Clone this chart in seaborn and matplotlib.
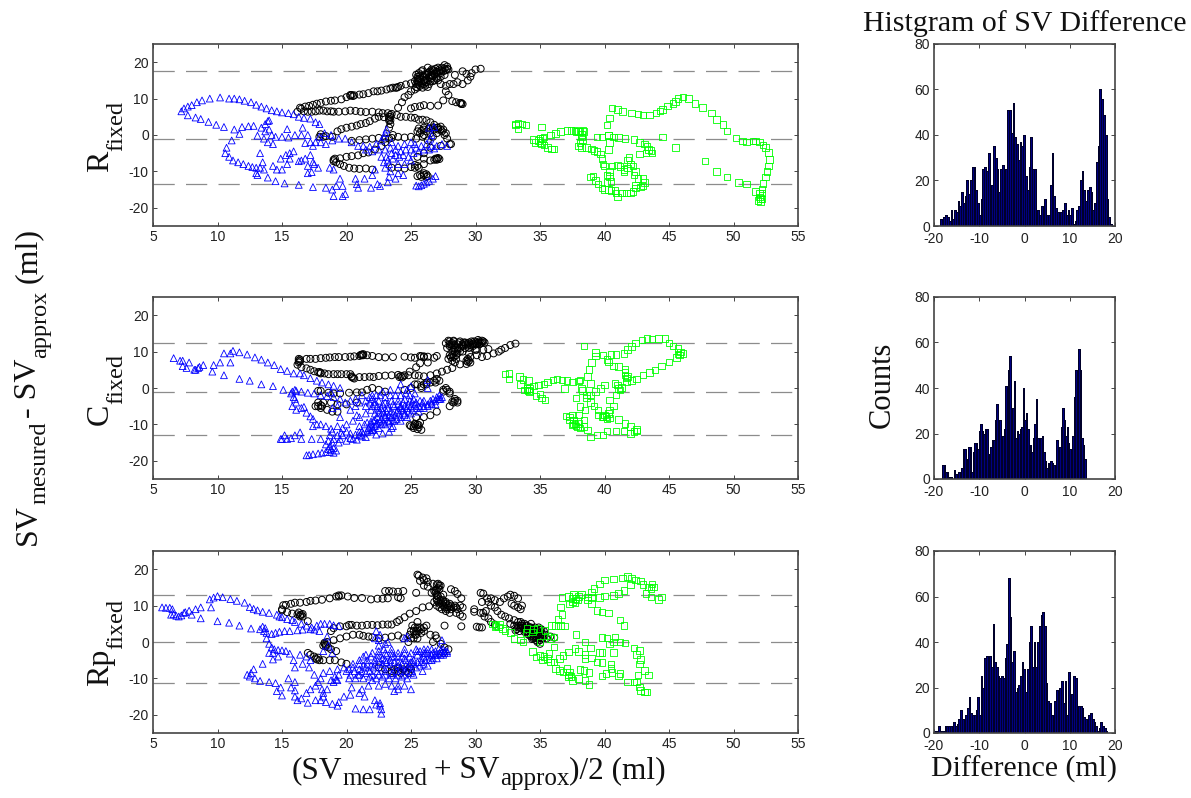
import numpy as np
import seaborn as sns
import matplotlib.pyplot as plt

# ---- scatter data (mean, difference) ----
r_black = [(16.4,7.5),(16.5,7.2),(16.8,7.8),(17.1,8),(17.4,8.3),(17.7,8.6),(18,8.8),(18.4,9.2),(18.8,9.4),(19.1,9.5),(19.6,9.8),(20,10.4),(20.3,10.8),(20.4,11),(20.6,10.9),(21,11.1),(21.3,11.2),(21.7,11.5),(22.1,12),(22.4,12),(22.7,12.2),(23.1,12.5),(23.4,12.8),(23.6,13),(23.9,13),(24.2,13.5),(24.6,13.9),(25,14.2),(25.3,14.8),(25.6,15.5),
    (25.3,12.5),(25.5,13),(25.7,13.5),(25.9,13),(26,14),(26.2,14.5),(25.6,14.5),(25.4,16.5),(25.6,17),(25.8,17.5),(26,16),(26.2,16.5),(26.4,17.3),(26.6,18),(26.8,17.5),(27,17),(27.2,18),(27.4,18.5),(27.6,19.2),(27.8,18.8),(27.9,18),(26.5,15.5),(26.7,16.2),(27,16),(27.3,17),(27.5,17.5),(26.1,15),(26.4,14),(26.8,15),(27.1,15),(25.9,17.8),(26.3,18.5),(26.6,16.5),(25.5,15.5),(27.7,17.8),
    (16.2,6.4),(16.7,6.5),(17,6.4),(17.3,6.4),(17.6,6.5),(17.9,6.7),(18.2,6.7),(18.5,6.5),(18.8,6.5),(19,6.4),(19.4,6.4),(19.9,6.5),(20.3,6.7),(20.7,6.6),(21.1,6.4),(21.5,6.3),(22,6.4),(22.5,6.2),(22.8,6),(23.2,6),(23.5,5.8),(23.9,5.5),(24.2,5),(24.6,5),(25,4.8),(25.3,4.7),(25.6,4.2),(25.9,4.2),(26.2,4),(26.5,3.5),(26.8,2.8),(27.1,2),(27.3,1.5),(27.6,0),(27.8,-1),(28,-2.5),(28.1,-2.5),
    (18.9,-0.5),(19.3,1),(19.6,1.6),(20,2),(20.4,2.3),(20.8,2.6),(21.1,3),(21.5,3.3),(21.8,3.8),(22.2,4.5),(22.5,5),(22.9,4.9),(23.3,5),(24,7.5),(24.3,9),(24.5,10.4),(24.8,11),(25,12),(25,7.3),(25.3,7.7),(25.7,7.9),(26,8.2),(26.5,8),(27.1,8.1),
    (27.3,14),(27.7,13.5),(28,14),(28.3,14),(28.6,14.5),(29,14),(29.4,15),(29.6,16),(29.7,17),(30,18),(30.4,18.2),(28.4,16.5),(29,17.5),(29.3,16.8),(27.7,12),(27.9,11),(27.5,9.5),(28.2,9.3),(28.5,9),(28.8,8.8),(29,8.5),
    (17.9,-0.5),(18,0.2),(18.2,-0.5),(18.4,-0.3),(19,-6.8),(19.2,-7.5),(19.5,-8),(19.8,-8.5),(20.2,-9),(20.6,-9.2),(21,-9.3),(21.5,-9.2),(22,-9.5),(19.5,-6.4),(20,-6),(20.4,-5.8),(20.9,-5.6),(21.3,-5),(21.7,-4.8),(22.2,-4),(22.7,-3),(23,-2),(23.3,-1),(23.6,0),(23.3,2),(23.4,3),(23.3,4),(23.4,5),(23.4,5.5),
    (25.5,1),(25.8,1.2),(26,2),(25.7,0.5),(26.2,1),(26.5,0.5),(26.8,1.5),(27,2),(27.3,2.3),(27.5,1.5),(27,0.5),(26,0),(25.4,-1),(20.4,-1.6),(21,-1.4),(21.5,-1.2),(22,-1),(22.5,-0.8),(23,-1),(23.5,-0.8),(24,-0.5),(24.5,-0.7),(25,-0.5),
    (25,-8.8),(25.3,-9),(25.5,-8.5),(26,-8),(26.5,-7),(26.8,-6.8),(27,-6.5),(27.2,-6.6),(26,-11),(25.8,-11.5),(25.5,-11.3),(26.2,-10.8),(26.3,-11.3),(26,-6.5),(25.5,-6),(23.5,-9),(24,-9),(24.5,-9.2),(27.3,-3),(26.5,-3.5),(26,-5)]
r_black_dense = [(25.4,13.2),(25.6,13.8),(25.8,14.3),(26,14.8),(26.2,15.3),(26.4,15.8),(26.6,16.3),(26.8,16.7),(27,17.4),(27.2,17.5),(27.4,17.8),(27.6,18.3),(27.8,18.2),(25.5,15),(25.7,15.5),(25.9,16.2),(26.1,16.7),(26.3,17),(26.5,17.5),(26.7,17.8),(26.9,18.2),(27.1,18.5),(25.5,16),(25.7,16.3),(25.4,14),(26.1,13.5),(26.3,13.2),(26.5,14.7),(26.7,14.8),(27,15.5),(27.3,16),(27.6,16.5),
    (25.6,1.8),(26,1.5),(26.4,1.8),(26.7,2.1),(27.1,1.5),(27.4,1),(27.7,0.5),(25.9,-0.5),(26.3,-1.5),(26.7,-0.5),(19,-7.2),(19.1,-6.5),(20.3,11),(20.5,10.7),(23.8,13),(24,13.2),(23.3,4.5),(23.4,4),(25.6,-9),(25.3,-8.2),(27,-6.8),(27.1,-6.3),(26.9,-6.5),(26.2,-11.5),(26,-10.5),(25.7,-11),(28.9,8.8),(28.9,8.5)]

r_blue = [(7.2,6.5),(7.4,7.3),(7.7,7.8),(8,8.2),(8.4,9),(8.8,9.5),(9.4,10),(10.2,10.3),(10.9,10),(11.3,10),(11.7,9.8),(12.1,9.4),(12.6,9),(13,8.3),(13.4,7.8),(13.8,7.3),(14.2,6.8),(14.6,6.5),(15,6.2),(15.5,6),(15.9,5.7),(16.3,5),(16.7,4.7),(17.2,4.5),(17.6,3.5),(17.9,3),
    (7.7,5.4),(8.3,4.8),(8.7,4.4),(9.3,3.6),(9.9,2.8),(10.5,2.2),(11.3,1.5),(11.9,2.2),(12.4,2.4),(12.8,2.5),(13.4,2),(13.7,3),(13.9,3.8),(14,4),(13.7,1),(14,1.5),(14.2,0),(14.5,-0.5),(15.4,1.6),(16.6,2),(15,-0.5),(15.5,-0.7),(16,0),(16.5,0),(17,0),(11.7,0.3),(11.1,-1.5),(13.1,-0.2),(13.6,-1),(13.9,-2),(14.3,-2.5),
    (10.7,-3.5),(10.6,-5),(10.9,-6),(11.2,-7),(11.6,-7.5),(12,-8),(12.4,-8.5),(12.7,-8.8),(13,-9),(13.3,-9),(13.5,-7.5),(13.3,-5),(13.6,-9.5),(13,-10.5),(13.1,-11),(13.9,-11.7),(14.5,-12.7),(15.2,-13.3),(16.3,-13.7),(17.4,-14.3),(14.3,-8.5),(14.6,-9.5),(15,-9.5),(14.9,-6.5),(15.3,-5.5),(15.6,-5),(15.9,-4.5),(15.6,-6.5),(16.3,-7.2),(16.5,-7),(15.4,-8),(16.8,-6.5),(17.2,-5.5),(17.4,-7.5),(17,-8.5),(17.5,-8),
    (17,-10.5),(17.3,-10.2),(17.8,-9),(18.7,-9),(19,-9.5),(18.4,-14.5),(18.9,-15),(19,-16.8),(19.7,-16.8),(19.9,-16.2),(19.2,-14),(19.5,-12),(19.7,-14),(20.7,-12),(20.8,-13.5),(20.9,-14.5),(21.4,-12),(21.9,-14.5),(22.4,-13.5),(22.6,-14),(23.2,-13),(23.8,-12),(24,-10.5),
    (16.8,-2.2),(17.2,-2),(17.6,-2),(18,-2),(17.4,-3),(18.4,-2.5),(18.9,-1.5),(19.4,-1),(19.9,-1),(20.4,-2),(17.9,-0.5),(18.3,0.5),(18.8,0),(20.9,-3),(21.3,-3),(21.8,-3.2),(22.3,-2.5),(22.7,-1.5),(23,0.5),(23.1,1.5),(22.9,-0.5),
    (21.5,-4),(22,-4.5),(22.5,-4),(23,-4),(23.4,-3.5),(23.8,-4),(24.2,-4.5),(24.6,-4),(25,-4),(25.4,-3.5),(25.8,-3),(26.2,-2.5),(26.6,-3),(27,-3),(27.4,-2.5),(27.8,-3),(26.5,-1),(26.6,0),(26.4,2),(26.8,2.2),(25.3,-2.5),(25,-2),(24.5,-2.5),(24,-3),(23.5,-2),(23.1,-6),(23.2,-7),(23.3,-8),(23.5,-5),(23.6,-6.5),(23.8,-5.5),(24.1,-6),(24.4,-5.5),(24.8,-6),(25.2,-5),(25.6,-4.5),(26,-4),(26.4,-4),(26.8,-3.7),(22.7,-6),(22.9,-7.5),(23,-9),(23.4,-10),(24,-8),(24.5,-8),(25,-7),(22.2,-9.5),(22,-11),(23.3,-11.5),(24.4,-11),
    (25.4,-13.9),(25.6,-14.1),(25.8,-13.8),(26,-13.4),(26.2,-13),(26.4,-12.6),(26.7,-12),(26.9,-11.3)]

r_green = [(33.1,3),(33.1,2.7),(33.3,1.7),(33.3,3.2),(33.6,3),(33.9,2.8),(35.1,2.2),(34.5,-1.2),(34.6,-2),(34.9,-1.5),(35,-2),(35.1,-2.5),(35.2,-1),(35.3,-2.8),(35.6,-3.4),(35.9,-3.8),(36.1,-3.8),(35,-1),(35.3,-0.5),(35.8,0),(36.2,0.4),(36.6,0.9),(37.1,1.2),(37.4,1.3),(37.7,1.2),(37.8,1),(38,1),(38.1,0.9),(38.3,1.2),(38.4,1),(38.2,0.2),(38.2,-0.5),(38.3,-1.2),(38.1,-2),(38,-3),(38.2,-3.4),(38.6,-3.5),(39,-3.8),(39.2,-4.2),(39.4,-4.5),(39.7,-5.2),(39.8,-6.5),(39.9,-8),(40,-8.5),
    (39.4,-0.5),(39.8,-0.6),(40.3,-0.2),(40.7,-0.6),(41.1,-0.7),(41.6,-1),(42.3,-1.2),(42.7,-2),(43.1,-2.5),(43.3,-3.2),(43.4,-4),(43.6,-4.2),(43.7,-5),(43.2,-5),(42.7,-5.2),(44.5,-0.6),(45.5,-3.5),(40.3,-4),(40.3,0),(40.4,-2),(40.2,2.7),(40.4,4.7),(40.6,7.4),(41,7),(41.4,6.5),(42.1,6.1),(42.6,5.8),(43,5.5),(43.5,5.5),(44,6),(44.3,6.6),(44.5,7),(44.9,8),(45.3,8.6),(45.5,9.2),(45.7,10),(46.1,10.5),(46.5,10),(47,8.7),(47.6,7.5),(48.3,6),(48.7,4.2),(49.2,2.9),(49.5,1.1),(50.2,-0.8),(50.7,-1.6),(51,-1.9),(51.5,-1.6),(51.7,-1.6),(52,-1.9),(52.3,-2.7),(52.5,-3.5),(52.7,-4.8),(52.8,-6.8),(52.7,-8.5),(52.6,-10),(52.5,-11.5),(52.3,-13.3),(52.2,-14.8),(51.7,-15.5),(52,-16),(52.2,-16),(52,-17),(52.1,-17.5),(51.9,-18),(52.2,-17.6),(52.1,-18.3),
    (47.8,-7.2),(48.7,-10),(49.5,-11.5),(50.4,-13),(51,-13.4),(38.9,-11.5),(39.1,-11.3),(39.3,-12.5),(39.5,-13.5),(39.8,-14.5),(40.2,-13),(40,-15),(40.3,-15),(40.5,-15.2),(40.8,-15.3),(40.9,-16),(41,-17),(41.3,-16),(41.7,-16),(42,-16),(42.2,-15.5),(42.4,-14.6),(42.4,-13.7),(42.6,-12),(43,-12),(43.1,-13),(43,-14),(42.8,-14.3),(40.5,-12.8),(40.4,-11.4),(40.2,-11),(40.4,-10),(40.6,-8.5),(41,-8.3),(41.2,-8.7),(41.5,-9.5),(41.8,-9),(42.2,-8.5),(42,-8),(41.9,-6.2),(41.8,-6.9),(42.4,-10),(42.3,-11),(41.5,-10)]

c_black = [(16.3,8),(16.4,7.8),(16.3,7),(16.2,6.4),(16.9,8),(17.2,8),(17.6,8),(18,8.2),(18.4,8.3),(18.7,8.4),(19.1,8.5),(19.4,8.5),(19.9,8.5),(20.3,8.6),(20.6,8.7),(21,8.8),(21.2,9.2),(21.3,9.3),(21.6,9),(22,8.8),(22.5,8.5),(23,8.4),(23.6,8.5),(24.5,8.6),(25,8.4),(25.3,8.3),(25.7,8.8),(26,8.7),(26.3,8.6),(26.8,8.3),(27,8.8),
    (16.5,5.7),(16.9,5.4),(17.2,5),(17.5,4.6),(17.8,4.3),(18,4.2),(18.3,4),(18.6,3.8),(19,3.8),(19.3,3.8),(19.6,3.8),(20,3.8),(20.3,3.8),(20.4,3.2),(20.6,2.6),(21,3),(21.4,3),(21.8,3.1),(22.1,3),(22.5,3.3),(23,3.4),(23.5,3.5),(24,3.6),(24.4,3.2),(24.8,3.5),(25.3,3.5),(25.6,3.4),(26,3.2),(26.5,3.5),(27,4),(27.4,4.5),(27.8,5),(28.2,5.5),(28.8,6.5),(29.3,6.6),
    (27.7,12.3),(27.9,13),(28,11.5),(28.2,10),(28,9),(27.9,8),(28.2,7.5),(28.5,8),(28.6,9.5),(28.8,11),(28.3,13),(28.6,12),(29,12),(29.4,12.2),(29.8,12.2),(30,12.5),(30.3,12.8),(30.5,13),(30.7,12.5),(30.3,12),(29.8,11.5),(29.2,11),(28.8,12.8),(29.5,11),(30,10.5),(29.5,9.5),(29.6,8.5),(29.4,7.2),(29.6,7),(28.1,12),(28.4,11),(28.2,9),(28.4,7),(28.3,12.8),(29.1,12.5),(29.7,12.8),(30.1,12),(29,10),(30.1,9),(30.5,8.5),(30.9,8.8),
    (30.1,10.5),(30.6,10.5),(31,10.7),(31.4,9.5),(31.8,10),(32,10.5),(32.3,11),(32.7,11.8),(33.1,12.2),(25.4,5.7),(24.9,4.5),(25.7,6.8),(26.3,7),
    (17.8,-0.8),(18,-0.8),(18.6,-1.3),(19,-1.5),(19.5,-1.5),(20.2,-1.3),(20.8,-1.2),(21.2,-1.2),(21.6,-0.5),(17.6,-5),(17.8,-5),(18,-5.5),(18.5,-6),(18.9,-6.5),(19.3,-6.5),(17.8,-4),(18.2,-4),(18.8,-4),(19.3,-4.5),(20,-4.5),(20.8,-4),
    (24.9,-10.2),(25.2,-10.5),(25.6,-10.8),(25.5,-10),(25.7,-9.5),(25.8,-11.5),(25.2,-11),(25.4,-8),(26,-8),(26.5,-7.5),(27,-6.5),(28,-5),(28.3,-4),(28.6,-4),(28.4,-3),(28,-1),(27.5,-1),(27.7,0),(25.8,0),(25.5,1),(26.2,1.5),(26.8,2),(27,2.5),(25,0),(25.3,1),(24.5,-0.5),(23,-1),(22.5,-0.5),(22,0)]
c_black_dense = [(27.8,11),(28,12.8),(28.2,12.3),(28.4,11.8),(28.6,11),(28.8,10),(28.2,11),(28.4,10),(28.6,10.5),(28.1,8.5),(28.3,8.5),(28.5,9),(29.2,12),(29.4,11.7),(29.6,11.8),(29.8,12),(30,12),(30.2,12.4),(30.4,12.4),(30.6,12.8),(29,11.5),(29.2,12.5),(29.5,12.5),(29.9,12.8),(30.2,13.2),(30.5,12.5),(29.3,7.5),(29.5,7.5),(29.4,8),(28,12),(28.7,12.5),
    (25,-10.5),(25.3,-10),(25.5,-11.3),(25.3,-9.8),(25.6,-10.2),(21.2,9),(21.3,9),(21.1,9.1),(20.4,3),(20.5,2.8),(18,4),(17.9,4.4),(26.2,1),(26.5,1.5),(26.9,1.5),(27.2,2),(26,1),(25.8,0.5),(27.5,-0.5),(27.8,-0.5),(28,-1.5),(28.4,-3.5),(28.6,-3.5),(28.2,-3.8),(18.1,-5),(18,-4.7),(25.8,8.7),(26,8.5),(16.4,7.3),(16.3,7.5),(24.5,3.5),(24.2,3.3),(24.3,2.9),(24.1,3)]

c_blue = [(6.6,8.2),(7.1,7.5),(7.3,7.5),(7.3,6),(7.6,5.5),(7.8,7),(8.2,5),(8.3,5),(8.5,5.5),(8.6,5.8),(8.9,6.3),(9.6,4.5),(9.7,6.3),(10.2,7),(10.5,3.5),(11,7),(10.5,9.5),(11,9.5),(11.2,10.2),(11.7,9.8),(12.3,9.2),(12.9,8.4),(13.4,7.8),(13.9,7),(14.4,6.3),(14.9,5.2),(15.4,4.7),(15.9,4),(16.4,4),(16.7,3.5),(17.2,2.7),(17.7,2),(18.1,1.5),(18.6,1),(19,0.6),(19.5,0),
    (11.7,2.5),(12.5,2),(13.4,1),(14.3,0.5),(15.1,-0.5),(15.8,-1),(16,-0.5),(16.1,-0.8),(15.7,-1.5),(15.9,-2.5),(16,-3),(16.1,-4),(15.8,-5),(16.1,-6),(16.5,-5.5),(16.7,-5.2),(16.9,-6.8),(17.2,-7.8),(17.4,-8.5),(16.5,-1),(17,-1.3),(17.5,-1.5),(18,-2),(18.5,-2.2),(17.4,-10.5),(17.7,-10),(18,-10),(18.4,-10.5),(18.8,-11.2),(18.9,-12),(19.3,-10.5),(19.7,-11),(20,-12),(14.9,-14),(15,-14),(15.2,-13),(15.4,-14),(15.7,-13.8),(16,-13),(16.4,-12.2),(16.5,-14),(17.3,-14),(18,-14),
    (16.9,-18.5),(17.1,-18.4),(17.4,-18.2),(17.8,-18),(18.1,-17.8),(18.4,-17.6),(18.7,-17.6),(19,-17.8),(19.2,-17.2),(18.7,-16),(18.9,-15),(18.6,-14.5),(19,-14),(19.3,-13),(19.6,-12.3),(20.3,-13.8),(20.5,-14),(20.8,-14.2),(21.2,-13.3),(21.5,-13.5),(21.2,-12),(21.7,-11),(22,-10.8),(22.2,-10.5),(22.5,-11),(22.3,-12.8),(22.8,-12.5),(23.3,-12),(23.6,-10.5),(18.4,-15.5),(18.7,-13),(19.4,-15),(20,-14.5),(20,-10),(20.5,-9),(20.8,-7.5),(21,-10.5),(21.4,-10),(21.8,-11.5),(21.9,-12),(22.1,-11.5),
    (19.9,-4),(20.3,-3.5),(20.7,-5),(21,-4),(21.5,-5),(21.9,-6),(22.2,-7),(22.4,-8),(22.6,-9),(22.9,-9.5),(23.2,-9),(23.5,-8),(23.8,-7.5),(24.1,-7),(24.4,-6),(24.7,-5.5),(25,-5),(25.3,-4.5),(25.6,-5),(26,-5),(26.3,-4.5),(26.6,-4),(26.9,-3.5),(27.2,-3),(27.4,-2.5),(27.2,-2),(27,-2.5),(26.7,-3),(26.5,-3.5),(25.9,-4),(25.2,-3),(24.9,-2),(24.7,-0.5),(25,0.5),(25.3,-1.5),(24,-0.5),(23.4,-0.5),(22.8,-1),(22.3,-2),(21.8,-2.5),(21.2,-2),(22,-3),(22.5,-3.5),(23,-4),(23.5,-3.5),(24,-3.5),(24.5,-3),(24.9,-3.5),(22.2,-4.5),(22.7,-5.5),(23.2,-5.5),(23.7,-5),(24.2,-5),(22.9,-7),(23.4,-6.5),(24,-6),(24.5,-7),(23,-8),(22.5,-6),(21.5,-7),(21,-8),(20.7,-3),(20.3,-6),(24.7,-8),(23.7,-9),(24.2,-9),(25,-7),(25.6,-6.5),(26.3,2.2),(26.3,0),(23.5,-11),(23.3,-9.5),(21.6,-9.5),(21.9,-9.2),(22.2,-8.8),(24.2,1),(19,-2.5),(19.5,-3),(18.8,-1.2),(19.3,-5),(18.9,-5.5),(19.5,-8)]
c_blue_dense = [(21,-13),(21.3,-12.5),(21.6,-12),(22,-11.5),(22.3,-10),(22.7,-10),(23,-10),(23.3,-9),(23.6,-9),(23.9,-8.5),(24.2,-8),(24.5,-7.5),(24.8,-6.5),(25.1,-6),(25.4,-5.5),(25.7,-5.5),(26,-5.5),(26.3,-5),(26.6,-4.5),(26.9,-4.5),(27.1,-3),(27.3,-3),(21.9,-9.8),(22.1,-9),(22.4,-9.5),(22.7,-8.5),(23,-7.5),(23.3,-7.5),(23.6,-7),(23.9,-6.5),(24.2,-5.5),(24.5,-5),(24.8,-4.5),(25.1,-4),(25.4,-4),(25.7,-3.5),(26,-3.5),(22,-5),(22.4,-5),(22.8,-4.5),(23.2,-4.5),(23.6,-4.5),(24,-4.5),(24.4,-4),(21.5,-3.5),(21.8,-4),(22.2,-3.8),(22.5,-6.8),(22.8,-6.5),(23.1,-6.5),(20.3,-12.5),(20.7,-12.8),(21,-12),(19.5,-14),(19.7,-13),(19,-16.5),(18.8,-17),(18.6,-16.8),(22,-2),(22.6,-2),(23,-2.5),(23.4,-2),(23.8,-2),(24.2,-2),(24.6,-1.5)]

c_green = [(32.3,3.8),(32.6,4),(32.6,2.5),(33.4,3.1),(33.7,2.4),(33.5,0.9),(34.1,2),(33.8,-0.5),(34,-0.5),(34.2,-1),(34.2,-0.1),(34.1,-0.7),(34,-0.2),(34.7,-2.2),(35,-1.6),(35.1,-2.8),(35.4,-3.3),(34.5,0.5),(34.9,0.8),(35.3,1.1),(35.6,1.6),(36,2.2),(36.3,2.5),(36.7,2.2),(37.1,2),(37.5,1.6),(38,1.9),(38.1,2.2),(36.9,-0.1),(38.2,-0.1),(38.3,-0.7),(38.6,-1.9),(38.9,1.3),(38.7,3.1),(38.8,5.1),(39,7),(39.3,9.8),(38.4,11.5),(39.3,8.8),(39.9,9),(40.5,9.2),(40.9,9.2),(41.5,9.5),(41.8,10.6),(42.1,11.4),(42.4,12.3),(42.9,13.2),(43.3,13.6),(43.7,13.4),(44.2,13.6),(44.7,13.6),(45,12.3),(45.3,11.5),(45.7,10.9),(46.1,9.5),(45.8,9),(45.6,8.4),(45.9,9.9),(45.7,9.3),(45,7.2),(44.4,6.1),(43.9,4.9),(43.5,4.3),(43,3.6),(42.5,2.5),(42.1,2),(41.7,1.7),(41.6,3.6),(41.6,5.1),(41.1,5.9),(40.7,6.1),(40.3,7.2),(40.2,7.9),(41.7,2.7),(41.6,4.2),(41.8,3.2),
    (41.2,-0.5),(41,0.8),(40.8,1.3),(41.1,-0.1),(41.3,0.2),(40,0.8),(39.7,-0.1),(39.3,-1),(38.9,-1.9),(38.6,-2.8),(38.9,-4),(39.2,-4.9),(39.5,-6),(39.5,-7.4),(39.9,-7.9),(40.3,-7),(40.4,-8.3),(41.1,-8.6),(41.6,-9.7),(42,-10.6),(42.5,-11.4),(42,-12.5),(41.5,-11.8),(40.9,-11.8),(40.2,-11.8),(39.9,-12.9),(39.4,-12.9),(38.9,-13.4),(38.7,-11.5),(38.4,-10.6),(38,-9.7),(37.6,-9.7),(37.3,-8.8),(37,-7.7),(37.5,-7.4),(38,-7.4),(38.5,-6),(38.1,-5.1),(37.8,-2.7),(40.4,-3.3),(40.7,-4.9),(40.4,-6),(40,-7.4),(40.9,-1.9),(38.4,-8.8),(37.5,-10.2),(37.8,-10.4),(37.3,-8),(37.6,-8.8),(37.7,-9.9),(37.9,-10.7),(38.1,-11),(42.3,-12),(42.5,-11.8),(40.1,-7.8),(40.2,-8.5),(39.8,-8)]

rp_black = [(15,9),(15.1,10.1),(15.3,10.2),(15.7,10.5),(16,10.8),(16.4,10.8),(16.9,11),(17.2,11.3),(17.6,11.4),(18.1,11.6),(18.7,12),(19.2,12.5),(19.4,12.8),(19.6,12.8),(20.1,12.5),(20.6,12.1),(21.2,12.1),(21.9,11.7),(22.4,11.9),(22.8,11.9),(23.2,12),(23,14),(23.3,14),(23.6,13.9),(24,13.8),(24.4,14),(24,12.3),(24.2,12),(15,8.7),(15.4,8.2),(15.8,7.8),(16.2,7.6),(16.4,7.4),(16.6,7),(16.6,7.7),(16.3,8.1),(17,5.7),
    (18.8,3),(19,3.8),(19.5,4.3),(20,4.3),(20.2,4.7),(20.4,4.7),(20.8,4.5),(21.2,4.5),(21.6,4.7),(22,4.7),(22.4,4.6),(22.8,4.8),(23.2,4.8),(23.5,4.8),(17,-3),(17.2,-3.5),(17.5,-4),(17.7,-4.8),(17.9,-5),(18.2,-5),(18.7,-5),(19.1,-5),(19.6,-5.6),(20,-6),(18.3,-0.5),(18.4,-1.2),(18.6,-1.5),(18.8,-2),(19.2,-2.5),(18.5,0),(19,0.5),(19.5,1),(20,1.5),(20.5,2),(21,2),(21.3,1.7),(21.7,1.5),(22,1.3),(22.5,1),(23,1.2),(23.5,1.5),(24,1.8),(24.4,1),(24.8,0),(25,1),(25.3,2),(25.4,3),(25.7,4),(26,4),(26.2,4.5),(26.5,2),(26.9,1.8),(27,1),(26.7,0),(27.3,-0.5),(27.6,-1.5),(27.9,-2),(27.5,-3),(23.9,5.5),(24.1,6),(24.5,6.8),(24.9,7.8),(25.4,8.5),(25.9,9.5),(26.4,9.8),(25.4,13.5),(25.2,3),(25.5,1),(25.8,2.5),(25.1,4.5),(25.5,5.5),(24.9,-7),(24,-8),(23.5,-8.5),(23,-7.5),(22.5,-7),(24.4,-7.5),(24.8,-8.5),
    (25.5,18.5),(25.6,18.2),(25.9,17.7),(26.2,17.5),(26.3,16.5),(26.7,16),(27,15.8),(27.1,16),(27.3,15.5),(25.7,16.8),(26,15.5),(26.3,15.2),(26.6,13.5),(26.8,14),(27,13),(27.2,14.5),(27.3,12.5),(27.5,11.5),(27.7,11),(28,10.5),(28.4,10),(28.8,10),(29,9.5),(28.6,9),(28.1,14.5),(28.4,14),(28.6,13.2),(28.9,12),(27,10),(27.2,9.5),(27.7,8.5),(28,8),(28.5,8),(28.8,7.5),(29,7),(28.9,4.3),(27.5,10),(26.8,11),(27,12),(26,17),(27.5,13),(27.1,11),(27.4,9),(27.8,9.5),(28.1,9),(27.6,4.5),(30.1,4.2),(29.9,9),(29.9,8.3),(30.3,4),(30.5,4),
    (30.4,13.5),(30.6,13.3),(30.5,11),(30.4,8),(30.6,8),(30.7,7),(30.9,12),(31.2,12),(31.5,11.5),(31.9,11),(32.2,12),(32.5,12.5),(32.7,13),(33,12.7),(33.3,12),(32.8,10.5),(33,10),(33.3,9.5),(33.5,9),(33.6,10),(30.8,8.5),(31,6.5),(31.2,5.5),(31.5,4.8),(31,11),(31.2,10),(31.5,9.5),(31.7,8.5),(32,7.5),(32.3,7),(32.6,6.5),(33,6),(33.3,5.5),(33.6,5),(33.9,4.5),(34.2,4),(34.5,3.5),(34.8,3),(35,2.5),(35.2,2),(34.5,1),(34.8,0),(35,-0.5),(34.5,2),(34.2,3),(33.8,3.5),(33.5,3.8),(33.2,3.5),(33,4.5),(32.7,5),
    (33.5,5.5),(33.8,5),(34,4.5),(34.3,5),(34.6,4),(34.9,4),(35.1,3.5),(35.3,3),(35.4,2),(35.2,1),(35,1.5),(34.7,1.5),(34.4,0.8),(34.1,2.5),(33.8,2.8),(33.4,3),(33.1,3.2),(34.6,2.5),(34.9,2),(35,0.5),(35.5,1),(35.8,1.5),(36.1,1.2),(34.3,1.5),(34.7,0.5)]
rp_black_dense = [(27.2,15.5),(27,14.5),(26.9,13.5),(27.1,12.5),(27.3,11.5),(27.5,11),(27.7,10.5),(27.9,10),(28.1,10),(28.3,9.5),(28.5,9.5),(27,11.5),(27.2,10.5),(27.4,10.5),(27.6,9.5),(27.8,9),(28,9.5),(33.3,4.5),(33.5,4.5),(33.7,4),(33.9,4),(34.1,3.5),(34.3,3.5),(34.5,3),(34.7,2.5),(34.9,3),(33.9,3),(34.1,2),(34.3,2),(34.5,1.5),(34.7,1),(34.9,1),(35.1,1),(35.3,1.5),(35,3.3),(34.3,4),(34.6,3),(33.6,4.5),(33.3,4),(24.9,2),(25,3),(25.2,1),(25.4,2),(25.6,3),(25.8,3.5),(26,3),(25.3,4),(25.5,4),(18.3,-0.2),(18.4,-0.8),(18.2,-1),(17.6,-4.5),(17.8,-4.3),(16.5,7.5),(16.4,7),(19.4,12.5),(23.5,-8),(24.2,-8.5),(24,-7),(23.7,-7.5),(24.6,-8),(25,-7.5),(26.9,14.2),(27.1,14.8)]

rp_blue = [(5.7,9.5),(6,9.4),(6.3,9.4),(6.5,9),(6.6,7.6),(6.8,7.2),(7,7),(7.2,7.3),(7.4,8),(7.5,8.2),(7.8,8.6),(8.3,9),(8.7,9.5),(9.4,11.7),(9.7,12.2),(10,12.6),(10.4,12.3),(11,11.8),(11.5,11.3),(12.1,10.8),(12.5,9.6),(12.8,9.1),(13.1,8.7),(13.5,8.3),(14,8),(14.6,7.5),(14.8,7),(15,6.8),(15.4,6.3),(15.8,6),(16,5.5),(16.5,5),(16.9,4.5),(17.3,4),(17.7,4.5),(18,5),(18.3,5),(18.7,5),(19,4.6),(19.4,4.4),
    (6.4,7.5),(8,7.5),(8.7,6.5),(9.5,9.5),(10,5.7),(10.9,5.3),(11.7,4.5),(12.6,3.7),(13.3,3.5),(13.5,4.2),(13.7,3.8),(13.6,3),(13.8,2.5),(14.2,2.2),(14.5,2.5),(14.8,2.8),(15.2,3),(15.6,3),(16.2,3.2),(16.6,3.4),(17.2,3.5),(17.5,3.4),(17.9,3),
    (13.8,1),(14,-0.5),(14.2,-1.5),(14.4,-2),(14,-3),(14.3,-3),(14.7,-2.2),(15,-2.3),(15.3,-2.5),(15.6,-3.2),(15.9,-5),(16,-7),(14.7,-4),(14.3,-4.8),(13.5,-6),(12.8,-7.5),(12.6,-8.5),(12.3,-9),(12.5,-9.5),(12.9,-10),(13.3,-10.7),(14,-11),(14.5,-11.3),(14.9,-12.5),(15.7,-12.5),(16,-13.3),(14.6,-13.5),(15,-14.7),(16,-15),(16.2,-16),(16.5,-15.5),(16.9,-14),(17.2,-13),(17.6,-12),(17.8,-11),(18,-10),(17.5,-9),(17.1,-7),(16.6,-6),(16.9,-4),(15.5,-10),(16,-11),(17.2,-5),(16.4,-3.5),(18.2,-2.5),(18.6,-1),(18.9,-3),(18.5,1.5),(19.3,-7.5),(18.7,-8),(18.2,-8.5),(18.8,-10.5),(19.2,-10.3),
    (18.1,-13),(18.2,-14),(18.2,-15),(18,-16),(18.4,-16.5),(18.9,-17),(19.3,-17.5),(19.4,-16.5),(19.8,-15),(20.3,-14.5),(20.4,-12.5),(20.7,-18.3),(21.3,-18.5),(21.8,-18.5),(22.2,-16),(22.6,-16.8),(22.6,-17.5),(22.7,-18.5),(22.7,-19.7),(22.3,-17.2),(17,-16.7),(17.6,-16),(18.5,-13),(19,-11),(19.3,-10.5),(21,-14),(21.2,-13),(21.4,-15),(21.7,-12),(22,-10.5),(22.5,-12),(23,-11.5),(23.5,-12),(24,-12),(24.5,-12),(25,-13),(23.7,-13.5),(24,-13),
    (20,-8),(20.3,-9),(20.6,-8),(20.9,-9),(21.2,-8),(21.5,-7),(21.8,-8),(22.1,-7),(22.4,-8),(22.7,-7),(23,-8),(23.3,-7),(23.6,-8.5),(23.9,-8),(24.2,-7),(24.5,-8),(24.8,-7),(25.1,-8),(25.4,-7),(25.7,-6.5),(26,-6),(26.3,-6.5),(26.6,-5),(21,-6),(21.3,-4),(21.6,-5),(21.9,-4),(22.2,-5),(22.5,-3.5),(22.8,-4.5),(23.1,-3.5),(23.4,-5),(23.7,-4),(24,-5.5),(24.3,-4),(24.6,-5),(24.9,-4),(25.2,-5),(25.5,-3.5),(25.8,-4.5),(26.1,-3),(26.4,-4),(26.7,-3),(27,-3.5),(27.3,-2.5),(27.6,-3),(27.8,-3),(27.5,-2),(27.2,-1.5),(26.9,-2.5),(26.6,-2),(26.3,-2),(26,-3),(25.7,-2.5),(25.4,-2),(24.5,-2),(23.5,-2),(22.9,-2),(22.5,-1),(22.2,1),(22.3,3),(22.6,2),(22.5,0.5),(23,-0.5),(23.2,0),(24.5,1),(24.7,1.5),(27.4,0.5),(20.2,-10),(20.7,-10),(21.3,-10),(21.8,-9.5),(22.3,-10),(22.8,-9.5),(23.3,-10),(23.8,-10),(24.3,-9.5),(24.7,-10),(25.2,-9),(25.9,-8),(19.8,-7),(19.4,-9),(19.1,-9.5)]
rp_blue_dense = [(21,-7.5),(21.3,-6.5),(21.6,-6),(21.9,-6.5),(22.2,-6),(22.5,-5.5),(22.8,-6),(23.1,-5.5),(23.4,-6),(23.7,-5.5),(24,-6.5),(24.3,-6),(24.6,-6.5),(24.9,-6),(25.2,-6),(25.5,-5.5),(25.8,-5.5),(26.1,-5),(26.4,-5),(26.7,-4.5),(27,-4.5),(27.3,-3.5),(27.6,-2.5),(27.8,-2.5),(26,-4),(26.3,-3),(26.6,-3.5),(26.9,-3.5),(27.2,-3),(27.5,-3.5),(21,-9),(21.5,-8.5),(22,-9),(22.5,-9),(23,-9),(23.5,-9),(24,-9),(24.5,-9),(25,-8.5),(20.5,-7),(20.2,-7.5),(20.5,-6),(21,-5),(21.5,-3.5),(22,-3),(22.5,-2.5),(23,-3),(23.5,-3),(24,-3),(24.5,-3),(25,-3),(25.5,-2.5),(26,-2),(22.5,-4.5),(23,-5),(23.5,-4),(24,-4),(24.5,-4.5),(25,-5.5)]

rp_green = [(36.7,12.2),(36.6,9.6),(36.7,7.5),(36.4,6.2),(35.9,4.6),(36.2,4.6),(36.6,4.6),(36.9,4.4),(37.8,2.1),(37.5,12),(37.6,13),(37.2,12.5),(37.8,12),(37.9,11.5),(37.5,11),(37.3,10.5),(37.7,10.7),(38,12.5),(38.2,13),(38.7,12.4),(39,13.8),(39.2,14.7),(39.6,16),(40,17),(40.7,17.3),(41.4,17.6),(41.8,18),(42.1,17.4),(42.4,17),(42,15.8),(41.5,14.2),(41.1,13.3),(40.7,12.8),(40,12.6),(39.6,12.2),(39,12.2),(38.7,11.5),(39,10.6),(39.4,8.7),(39.8,8.3),(40.3,8),
    (42.8,16.7),(43,15.8),(43.4,15.1),(43.7,16),(43.8,15.1),(43.6,14.7),(43.2,13.3),(43.6,12.4),(44.2,11.7),(44.4,12.4),(41.2,6),(41.5,4.6),(39.8,1.2),(40.2,1.1),(40.8,1.4),(40.7,0),(40.4,-0.6),(41.2,0),(41.6,-0.3),(42.3,-1.7),(42.7,-2.3),(42.5,-3.5),(42.8,-4.8),(42.7,-6),(43.1,-7.8),(42.6,-9),(43.4,-9),
    (38.5,0),(38.9,-1.7),(38,-2.6),(38.5,-3.5),(38.5,-4.6),(39,-4.4),(39.4,-5.5),(39.6,-2.9),(39.8,-2.9),(40.7,-2.9),(39.8,-5.7),(40.5,-6),(40.5,-7.3),(40.6,-8.4),(41.2,-8.7),(41.1,-9.4),(40.1,-8.7),(39.8,-9.4),(41.8,-11),(42.3,-11),(42.5,-11),(42.7,-12.4),(42.8,-13.3),(43.1,-13.8),(43.3,-13.8),
    (38.8,-11.7),(38.5,-10.6),(38.8,-8.4),(38.4,-7.8),(38.1,-7.5),(38,-10),(37.5,-10.6),(37.2,-9.6),(37.1,-7.3),(36.8,-8.3),(37.3,-8.3),(37.2,-9),(37.4,-9.5),(37.7,-1.8),(37.2,-2.8),(36.8,-3.7),(36.5,-4.6),(36.1,-5.5),(36.2,-7.3),(36.5,-7.8),(34.4,-2.6),(34.7,-4.1),(35,-3.7),(35.2,-5),(35.6,-4.6),(35.8,-5.5),(36.1,-1.4),(35.7,-3.2),(35.3,-4),
    (31.3,4.9),(31.5,4.3),(31.6,4.6),(31.8,4.1),(31.9,4.8),(32.1,3.7),(32.3,3.2),(32.7,2.6),(33,0.9),(33.5,0.5),(33.7,0),(34,3.7),(34.4,2.8),(34.8,3.7),(35,0),(35.4,3.2),(35.8,0.9),(35.6,1.6),(36.1,1.4),(34.5,3.5),(33.9,2.6)]

# mean +/- limits, dashed lines
r_levels = [17.7, -1.2, -13.5]
c_levels = [12.5, -1.2, -12.8]
rp_levels = [13, -0.1, -11.3]

# ---- histogram counts ----
r_counts = [3,3,4,5,4,2,7,3,7,6,11,9,15,10,13,20,14,20,26,26,16,10,5,12,25,26,24,32,10,18,35,30,25,15,25,27,23,25,51,51,41,54,39,36,29,37,35,40,22,16,26,39,25,25,6,7,5,9,9,12,5,5,18,32,13,8,6,6,6,7,10,5,7,5,8,1,2,7,9,20,24,16,11,16,17,15,7,10,28,35,60,56,49,40,12,4,1]
c_counts = [6,6,3,3,1,1,1,0,4,2,1,3,3,5,13,13,9,9,14,14,3,12,16,16,13,21,24,21,20,22,22,9,11,14,17,17,26,33,17,26,19,19,22,41,35,48,54,23,31,43,18,21,20,22,23,40,26,29,22,12,15,12,18,24,35,18,16,18,19,12,8,5,7,5,8,7,6,5,17,14,14,23,31,26,19,23,16,13,13,19,36,48,43,57,48,18,15,9]
rp_counts = [1,1,3,1,1,1,3,3,3,3,2,5,3,4,6,10,6,4,8,11,16,9,8,8,10,16,8,25,20,33,34,34,34,29,48,31,29,25,24,25,24,33,39,68,51,31,36,18,20,21,25,31,28,18,28,40,47,29,40,29,40,47,52,53,47,22,14,13,8,5,14,19,9,20,23,13,23,8,27,13,17,25,24,9,12,12,11,7,6,4,8,9,6,5,3,1,2,5,3,2,1]
hist_ranges = [(-18.7, 19.3), (-18.2, 13.5), (-19.9, 18.3)]

x_ticks = list(range(5, 60, 5))
y_ticks = [-20, -10, 0, 10, 20]
hist_x_ticks = [-20, -10, 0, 10, 20]
hist_y_ticks = [0, 20, 40, 60, 80]

W, H = 1191, 798
SERIF = 'Liberation Serif'

sns.set_style('white')
plt.rcParams['font.family'] = ['Liberation Sans', 'DejaVu Sans']
plt.rcParams['axes.unicode_minus'] = False


def box(x0, y0, x1, y1):
    return [x0 / W, 1 - y1 / H, (x1 - x0) / W, (y1 - y0) / H]


def style_axes(ax):
    ax.tick_params(direction='in', length=3, width=0.7, top=True, right=True, bottom=True, left=True,
                   labelsize=10, pad=3, color='#444444', labelcolor='#222222')
    for s in ax.spines.values():
        s.set_linewidth(1.2)
        s.set_color('#444444')


def open_points(ax, pts, marker, color, size, lw):
    xs, ys = np.array(pts).T
    sns.scatterplot(x=xs, y=ys, marker=marker, s=size, facecolor='none', edgecolor=color,
                    linewidth=lw, ax=ax, legend=False, clip_on=True)


def chain_text(fig, x, y, pieces, rotated=False):
    # base text and subscripts are laid end to end, x, y in pixels from the top left
    r = fig.canvas.get_renderer()
    for s, size, shift, gap in pieces:
        if rotated:
            t = fig.text((x + shift) / W, 1 - y / H, s, family=SERIF, fontsize=size, rotation=90,
                         ha='left', va='baseline', rotation_mode='anchor', color='#111111')
            y -= t.get_window_extent(r).height + gap
        else:
            t = fig.text(x / W, 1 - (y + shift) / H, s, family=SERIF, fontsize=size,
                         ha='left', va='baseline', color='#111111')
            x += t.get_window_extent(r).width + gap


fig = plt.figure(figsize=(W / 100, H / 100), dpi=100)

rows = [(44, 226, r_black + r_black_dense, r_blue, r_green, r_levels, r_counts),
        (297, 479, c_black + c_black_dense, c_blue + c_blue_dense, c_green, c_levels, c_counts),
        (551, 733, rp_black + rp_black_dense, rp_blue + rp_blue_dense, rp_green, rp_levels, rp_counts)]

for i, (top, bottom, black, blue, green, levels, counts) in enumerate(rows):
    ax = fig.add_axes(box(153, top, 798, bottom))
    for lev in levels:
        ax.plot([5, 54.5], [lev, lev], color='#8c8c8c', lw=0.9, dashes=(17, 9), zorder=1)
    open_points(ax, black, 'o', 'black', 25, 0.7)
    open_points(ax, blue, '^', '#0000ff', 24, 0.6)
    open_points(ax, green, 's', '#00ff00', 22, 0.6)
    ax.set_xlim(5, 55)
    ax.set_ylim(-25, 25)
    ax.set_xticks(x_ticks)
    ax.set_yticks(y_ticks)
    style_axes(ax)

    hx = fig.add_axes(box(934, top, 1115, bottom))
    lo, hi = hist_ranges[i]
    edges = np.linspace(lo, hi, len(counts) + 1).tolist()
    centers = [(a + b) / 2 for a, b in zip(edges[:-1], edges[1:])]
    sns.histplot(x=centers, weights=counts, bins=edges, color='#000080', edgecolor='#00002a',
                 linewidth=0.6, alpha=1, antialiased=False, ax=hx, legend=False)
    hx.set_xlim(-20, 20)
    hx.set_ylim(0, 80)
    hx.set_xticks(hist_x_ticks)
    hx.set_yticks(hist_y_ticks)
    hx.set_ylabel('')
    style_axes(hx)
    hx.tick_params(axis='x', pad=4)

fig.canvas.draw()

# row labels
chain_text(fig, 108, 172, [('R', 23, 0, 0), ('fixed', 17.5, 14, 0)], rotated=True)
chain_text(fig, 108, 425, [('C', 23, 0, 0), ('fixed', 17.5, 14, 0)], rotated=True)
chain_text(fig, 108, 686, [('Rp', 23, 0, 0), ('fixed', 17.5, 14, 0)], rotated=True)

# shared labels
chain_text(fig, 36, 545, [('SV', 23, 0, 0), ('mesured', 17.5, 10, 4), ('- SV', 23, 0, 0), ('approx', 17.5, 10, 8), ('(ml)', 23, 0, 0)], rotated=True)
chain_text(fig, 292, 778, [('(SV', 22.5, 0, 0), ('mesured', 18, 7, 7), ('+ SV', 22.5, 0, 0), ('approx', 18, 7, 0), (')/2 (ml)', 22.5, 0, 0)])
fig.text(931 / W, 1 - 777 / H, 'Difference (ml)', family=SERIF, fontsize=21.5, color='#111111', ha='left', va='baseline')
fig.text(890 / W, 1 - 428 / H, 'Counts', family=SERIF, fontsize=22, color='#111111', rotation=90, ha='left', va='baseline', rotation_mode='anchor')
fig.text(863 / W, 1 - 31 / H, 'Histgram of SV Difference', family=SERIF, fontsize=21.5, color='#111111', ha='left', va='baseline')

fig.savefig('out.png', dpi=100)
